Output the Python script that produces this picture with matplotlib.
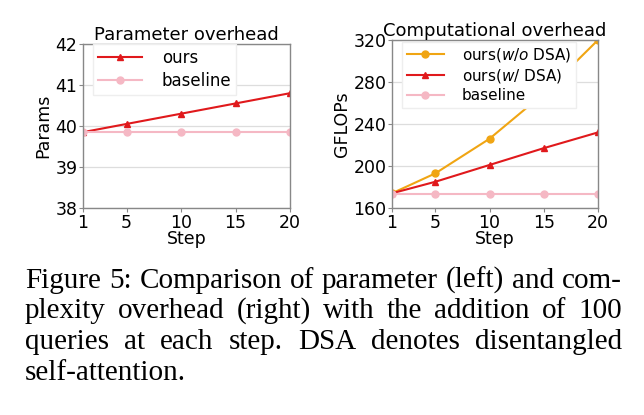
import matplotlib
matplotlib.use('Agg')
import matplotlib.pyplot as plt

steps = [1, 5, 10, 15, 20]
params_ours = [39.85, 40.05, 40.30, 40.55, 40.80]
params_base = [39.85, 39.85, 39.85, 39.85, 39.85]
gflops_wo_dsa = [174, 193, 226, 269, 320]
gflops_w_dsa = [174, 185, 201, 217, 232]
gflops_base = [173.5, 173.5, 173.5, 173.5, 173.5]

caption_lines = [
    "Figure 5: Comparison of parameter (left) and com-",
    "plexity overhead (right) with the addition of 100",
    "queries at each step.  DSA denotes disentangled",
    "self-attention.",
]

RED = '#e0191c'
ORANGE = '#f0a513'
PINK = '#f5b8c4'

W, H = 644, 415
fig = plt.figure(figsize=(W / 100, H / 100), dpi=100)
plt.rcParams['font.family'] = ['DejaVu Sans']
plt.rcParams['mathtext.fontset'] = 'dejavusans'

FS = 12.5


def style(ax):
    ax.set_facecolor('white')
    ax.grid(axis='y', color='#dddddd', linewidth=0.9)
    ax.set_axisbelow(True)
    for s in ax.spines.values():
        s.set_color('#888888')
        s.set_linewidth(1.0)
    ax.tick_params(labelsize=FS, length=3, width=0.8, color='#888888', pad=1)
    ax.set_xlim(1, 20)
    ax.set_xticks(steps)
    ax.set_xlabel('Step', fontsize=FS, labelpad=-1)


ax1 = fig.add_axes([83 / W, 1 - 208 / H, (290 - 83) / W, (208 - 44) / H])
style(ax1)
ax1.plot(steps, params_ours, color=RED, marker='^', markersize=5, linewidth=1.5, label='ours')
ax1.plot(steps, params_base, color=PINK, marker='o', markersize=5, linewidth=1.5, label='baseline')
ax1.set_ylim(38, 42)
ax1.set_yticks([38, 39, 40, 41, 42])
ax1.set_ylabel('Params', fontsize=FS, labelpad=2)
ax1.set_title('Parameter overhead', fontsize=13, pad=2)
ax1.legend(loc='upper left', fontsize=12, handlelength=2.6, borderaxespad=0.0, borderpad=0.3,
           bbox_to_anchor=(0.05, 1.0), framealpha=1, edgecolor='#eeeeee', fancybox=False,
           labelspacing=0.3, handletextpad=1.2)

ax2 = fig.add_axes([392 / W, 1 - 208 / H, (598 - 392) / W, (208 - 40) / H])
style(ax2)
ax2.plot(steps, gflops_wo_dsa, color=ORANGE, marker='o', markersize=5, linewidth=1.5,
         label=r'ours($\it{w/o}$ DSA)')
ax2.plot(steps, gflops_w_dsa, color=RED, marker='^', markersize=5, linewidth=1.5,
         label=r'ours($\it{w/}$ DSA)')
ax2.plot(steps, gflops_base, color=PINK, marker='o', markersize=5, linewidth=1.5, label='baseline')
ax2.set_ylim(160, 320)
ax2.set_yticks([160, 200, 240, 280, 320])
ax2.set_ylabel('GFLOPs', fontsize=FS, labelpad=2)
ax2.set_title('Computational overhead', fontsize=13, pad=2)
ax2.legend(loc='upper left', fontsize=11, handlelength=2.4, borderaxespad=0.0, borderpad=0.3,
           bbox_to_anchor=(0.05, 0.99), framealpha=1, edgecolor='#eeeeee', fancybox=False,
           labelspacing=0.2, handletextpad=1.2)

# justified caption
renderer = fig.canvas.get_renderer()
x_left, x_right = 25, 622
baselines = [288, 318, 349, 380]


def word_widths(words, fs):
    ts = [fig.text(0, 0, w, fontsize=fs, family='Liberation Serif') for w in words]
    ws = [t.get_window_extent(renderer).width for t in ts]
    for t in ts:
        t.remove()
    return ws


# largest font size where every justified line keeps a gap of at least 0.24 em
fs = 24.0
while fs > 14:
    ok = True
    for line in caption_lines[:-1]:
        words = line.split()
        ws = word_widths(words, fs)
        gap = (x_right - x_left - sum(ws)) / (len(words) - 1)
        if gap < 0.24 * fs * 100 / 72:
            ok = False
            break
    if ok:
        break
    fs -= 0.25

for i, (line, yb) in enumerate(zip(caption_lines, baselines)):
    words = line.split()
    y = 1 - yb / H
    if i == len(caption_lines) - 1:
        fig.text(x_left / W, y, line, fontsize=fs, family='Liberation Serif', va='baseline', ha='left')
        continue
    texts = [fig.text(0, y, w, fontsize=fs, family='Liberation Serif', va='baseline', ha='left') for w in words]
    widths = [t.get_window_extent(renderer).width for t in texts]
    gap = (x_right - x_left - sum(widths)) / (len(words) - 1)
    x = x_left
    for t, wd in zip(texts, widths):
        t.set_x(x / W)
        x += wd + gap

fig.savefig('out.png', dpi=100)
